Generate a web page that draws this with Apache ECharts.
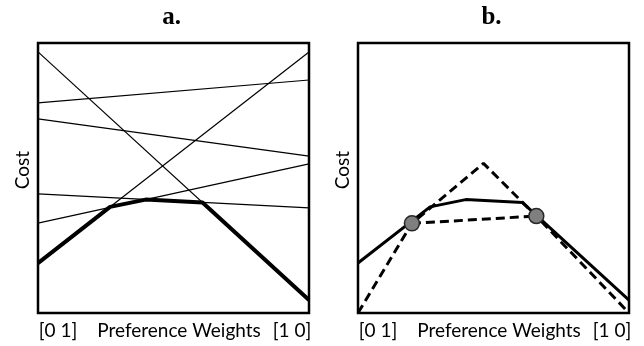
<!DOCTYPE html>
<html>
<head>
<meta charset="utf-8">
<script src="https://cdn.jsdelivr.net/npm/echarts@6/dist/echarts.min.js"></script>
<style>html,body{margin:0;padding:0;background:#fff;}#c{width:644px;height:346px;}</style>
</head>
<body>
<div id="c"></div>
<script>
// Panel a: six cost lines, cost at weights [0 1] (x=0) and [1 0] (x=1)
const weightEnds = [0, 1];
const costAtStart = [0.967, 0.778, 0.719, 0.185, 0.333, 0.441];
const costAtEnd   = [0.048, 0.863, 0.581, 0.967, 0.552, 0.389];
// Lower envelope (thick line), same in both panels
const envelopeX = [0, 0.266, 0.397, 0.607, 1];
const envelopeY = [0.185, 0.393, 0.420, 0.409, 0.048];
// Panel b: dashed approximation
const approxX = [0, 0.199, 0.463, 0.658, 1];
const approxY = [0, 0.332, 0.554, 0.359, 0];
const chordX = [0.199, 0.658];
const chordY = [0.332, 0.359];
// sampled points (circles)
const pointX = [0.199, 0.658];
const pointY = [0.332, 0.359];
// text
const panelTitles = ['a.', 'b.'];
const xLabelLeft = '[0 1]';
const xLabelMid = 'Preference Weights';
const xLabelRight = '[1 0]';
const yLabel = 'Cost';

const zip = (xs, ys) => xs.map((x, i) => [x, ys[i]]);

const grids = [
  {left: 38, top: 43, width: 271, height: 270},
  {left: 358, top: 43, width: 271, height: 270}
];

const series = [];
costAtStart.forEach((c, i) => {
  series.push({
    type: 'line', xAxisIndex: 0, yAxisIndex: 0, symbol: 'none', silent: true,
    data: zip(weightEnds, [c, costAtEnd[i]]),
    lineStyle: {color: '#000', width: 1.2}
  });
});
series.push({
  type: 'line', xAxisIndex: 0, yAxisIndex: 0, symbol: 'none', silent: true,
  data: zip(envelopeX, envelopeY),
  lineStyle: {color: '#000', width: 4, join: 'round'}, z: 3
});
series.push({
  type: 'line', xAxisIndex: 1, yAxisIndex: 1, symbol: 'none', silent: true,
  data: zip(envelopeX, envelopeY),
  lineStyle: {color: '#000', width: 3}
});
series.push({
  type: 'line', xAxisIndex: 1, yAxisIndex: 1, symbol: 'none', silent: true,
  data: zip(approxX, approxY),
  lineStyle: {color: '#000', width: 3, type: [9, 5]}
});
series.push({
  type: 'line', xAxisIndex: 1, yAxisIndex: 1, symbol: 'none', silent: true,
  data: zip(chordX, chordY),
  lineStyle: {color: '#000', width: 3, type: [9, 5]}
});
series.push({
  type: 'scatter', xAxisIndex: 1, yAxisIndex: 1, silent: true,
  data: zip(pointX, pointY), symbolSize: 15, z: 5,
  itemStyle: {color: '#7f7f7f', opacity: 1, borderColor: '#262626', borderWidth: 1.5}
});

const axisBase = {
  type: 'value', min: 0, max: 1,
  axisLine: {show: false}, axisTick: {show: false},
  axisLabel: {show: false}, splitLine: {show: false}
};

const labelFont = 'Lato, "Liberation Sans", sans-serif';
const graphics = [];
grids.forEach((g, i) => {
  const cx = g.left + g.width / 2;
  graphics.push({type: 'text', x: cx - 2, y: 18, style: {text: panelTitles[i], font: 'bold 25px "Liberation Serif", serif', fill: '#000', align: 'center', verticalAlign: 'middle'}});
  graphics.push({type: 'text', x: g.left - 15.5, y: 170, rotation: Math.PI / 2, style: {text: yLabel, font: '19px ' + labelFont, fill: '#000', align: 'center', verticalAlign: 'middle'}});
  graphics.push({type: 'text', x: g.left + 20, y: 331, style: {text: xLabelLeft, font: '19px ' + labelFont, fill: '#000', align: 'center', verticalAlign: 'middle'}});
  graphics.push({type: 'text', x: g.left + 141, y: 331, style: {text: xLabelMid, font: '19px ' + labelFont, fill: '#000', align: 'center', verticalAlign: 'middle'}});
  graphics.push({type: 'text', x: g.left + 254, y: 331, style: {text: xLabelRight, font: '19px ' + labelFont, fill: '#000', align: 'center', verticalAlign: 'middle'}});
});

const chart = echarts.init(document.getElementById('c'), null, {renderer: 'canvas'});
chart.setOption({
  backgroundColor: '#fff',
  animation: false,
  grid: grids.map(g => Object.assign({show: true, borderColor: '#000', borderWidth: 2.5, backgroundColor: 'transparent'}, g)),
  xAxis: [Object.assign({gridIndex: 0}, axisBase), Object.assign({gridIndex: 1}, axisBase)],
  yAxis: [Object.assign({gridIndex: 0}, axisBase), Object.assign({gridIndex: 1}, axisBase)],
  series: series,
  graphic: graphics
});
</script>
</body>
</html>
